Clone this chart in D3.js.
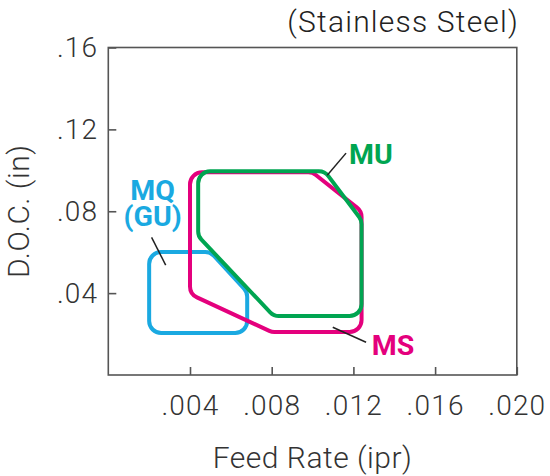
<!DOCTYPE html>
<html>
<head>
<meta charset="utf-8">
<script src="https://cdn.jsdelivr.net/npm/d3@7"></script>
<style>
  body { margin: 0; background: #fff; }
  svg text { font-family: Roboto, "Liberation Sans", sans-serif; }
</style>
</head>
<body>
<svg id="chart" width="550" height="476"></svg>
<script>
// tick values
const xTicks = [0.004, 0.008, 0.012, 0.016, 0.020];
const yTicks = [0.04, 0.08, 0.12, 0.16];

// operating windows (feed rate, depth of cut)
const mqFeed = [0.0020, 0.0050, 0.0068, 0.0068, 0.0020];
const mqDoc  = [0.0601, 0.0601, 0.0405, 0.0205, 0.0205];

const msFeed = [0.0040, 0.0100, 0.0124, 0.0124, 0.0080, 0.0040];
const msDoc  = [0.0990, 0.0990, 0.0800, 0.0210, 0.0210, 0.0395];

const muFeed = [0.0044, 0.0106, 0.0124, 0.0124, 0.0081, 0.0044];
const muDoc  = [0.0995, 0.0995, 0.0756, 0.0288, 0.0288, 0.0678];

const seriesNames  = ["MQ", "MS", "MU"];
const seriesColors = ["#1aa9e1", "#e4007d", "#00a551"];

let svg = d3.select("svg#chart");

let x = d3.scaleLinear().domain([0, 0.020]).range([108.3, 516.8]);
let y = d3.scaleLinear().domain([0, 0.16]).range([375, 47.5]);

// polygon with rounded corners
function roundedPath(pts, r) {
  let p = d3.path();
  let n = pts.length;
  p.moveTo((pts[0][0] + pts[1][0]) / 2, (pts[0][1] + pts[1][1]) / 2);
  for (let i = 1; i <= n; i++) {
    let a = pts[i % n], b = pts[(i + 1) % n];
    p.arcTo(a[0], a[1], b[0], b[1], r);
  }
  p.closePath();
  return p.toString();
}

function zipPts(fx, fy) {
  return fx.map(function(d, i) { return [x(d), y(fy[i])]; });
}

// frame
svg.append("rect")
  .attr("x", x(0)).attr("y", y(0.16))
  .attr("width", x(0.020) - x(0))
  .attr("height", y(0) - y(0.16))
  .attr("fill", "none")
  .attr("stroke", "#555")
  .attr("stroke-width", 1.6);

// axes
let xAxis = svg.append("g")
  .attr("transform", "translate(0," + y(0) + ")")
  .call(d3.axisBottom(x)
    .tickValues(xTicks)
    .tickSizeInner(-8).tickSizeOuter(0)
    .tickPadding(20)
    .tickFormat(function(d) { return d3.format(".3f")(d).replace(/^0/, ""); }));

let yAxis = svg.append("g")
  .attr("transform", "translate(" + x(0) + ",0)")
  .call(d3.axisLeft(y)
    .tickValues(yTicks)
    .tickSizeInner(-8).tickSizeOuter(0)
    .tickPadding(10)
    .tickFormat(function(d) { return d3.format(".2f")(d).replace(/^0/, ""); }));

[xAxis, yAxis].forEach(function(g) {
  g.select(".domain").remove();
  g.selectAll(".tick line").attr("stroke", "#555").attr("stroke-width", 1.6);
  g.selectAll(".tick text")
    .attr("font-family", "Roboto, 'Liberation Sans', sans-serif")
    .attr("font-size", "28px")
    .attr("font-weight", 300)
    .attr("letter-spacing", "1.2px")
    .attr("fill", "#333");
});

// axis titles
svg.append("text")
  .attr("x", (x(0) + x(0.020)) / 2)
  .attr("y", 467.5)
  .attr("text-anchor", "middle")
  .attr("font-size", "30px")
  .attr("font-weight", 300)
  .attr("letter-spacing", "0.5px")
  .attr("fill", "#333")
  .text("Feed Rate (ipr)");

svg.append("text")
  .attr("transform", "translate(28.5," + (y(0) + y(0.16)) / 2 + ") rotate(-90)")
  .attr("text-anchor", "middle")
  .attr("font-size", "30px")
  .attr("font-weight", 300)
  .attr("letter-spacing", "0.5px")
  .attr("fill", "#333")
  .text("D.O.C. (in)");

svg.append("text")
  .attr("x", 519)
  .attr("y", 31.5)
  .attr("text-anchor", "end")
  .attr("font-size", "30px")
  .attr("font-weight", 300)
  .attr("letter-spacing", "1.2px")
  .attr("fill", "#222")
  .text("(Stainless Steel)");

// windows: blue first, green on top
let shapes = [zipPts(mqFeed, mqDoc), zipPts(msFeed, msDoc), zipPts(muFeed, muDoc)];

svg.append("g").attr("class", "windows")
  .selectAll("path")
  .data(shapes)
  .enter().append("path")
    .attr("d", function(d) { return roundedPath(d, 12); })
    .attr("fill", "none")
    .attr("stroke", function(d, i) { return seriesColors[i]; })
    .attr("stroke-width", 4);

// leader lines, in data units
let leaders = [
  [[0.00212, 0.0672], [0.00281, 0.0537]],
  [[0.01099, 0.0233], [0.01262, 0.0160]],
  [[0.01072, 0.0976], [0.01164, 0.1084]]
];

svg.append("g").attr("class", "leaders")
  .selectAll("line")
  .data(leaders)
  .enter().append("line")
    .attr("x1", function(d) { return x(d[0][0]); })
    .attr("y1", function(d) { return y(d[0][1]); })
    .attr("x2", function(d) { return x(d[1][0]); })
    .attr("y2", function(d) { return y(d[1][1]); })
    .attr("stroke", "#222")
    .attr("stroke-width", 1.5);

// series labels (each label may have several lines)
let labels = [
  { lines: ["MQ", "(GU)"], fx: 0.00217, fy: 0.0853, anchor: "middle", c: 0 },
  { lines: ["MS"],         fx: 0.01290, fy: 0.0098, anchor: "start",  c: 1 },
  { lines: ["MU"],         fx: 0.01179, fy: 0.1033, anchor: "start",  c: 2 }
];

let lab = svg.append("g").attr("class", "labels")
  .selectAll("text")
  .data(labels)
  .enter().append("text")
    .attr("x", function(d) { return x(d.fx); })
    .attr("y", function(d) { return y(d.fy); })
    .attr("text-anchor", function(d) { return d.anchor; })
    .attr("font-size", "28.5px")
    .attr("font-weight", 700)
    .attr("fill", function(d) { return seriesColors[d.c]; });

lab.each(function(d) {
  let t = d3.select(this);
  d.lines.forEach(function(s, i) {
    t.append("tspan")
      .attr("x", x(d.fx))
      .attr("dy", i === 0 ? 0 : 26)
      .text(s);
  });
});
</script>
</body>
</html>
